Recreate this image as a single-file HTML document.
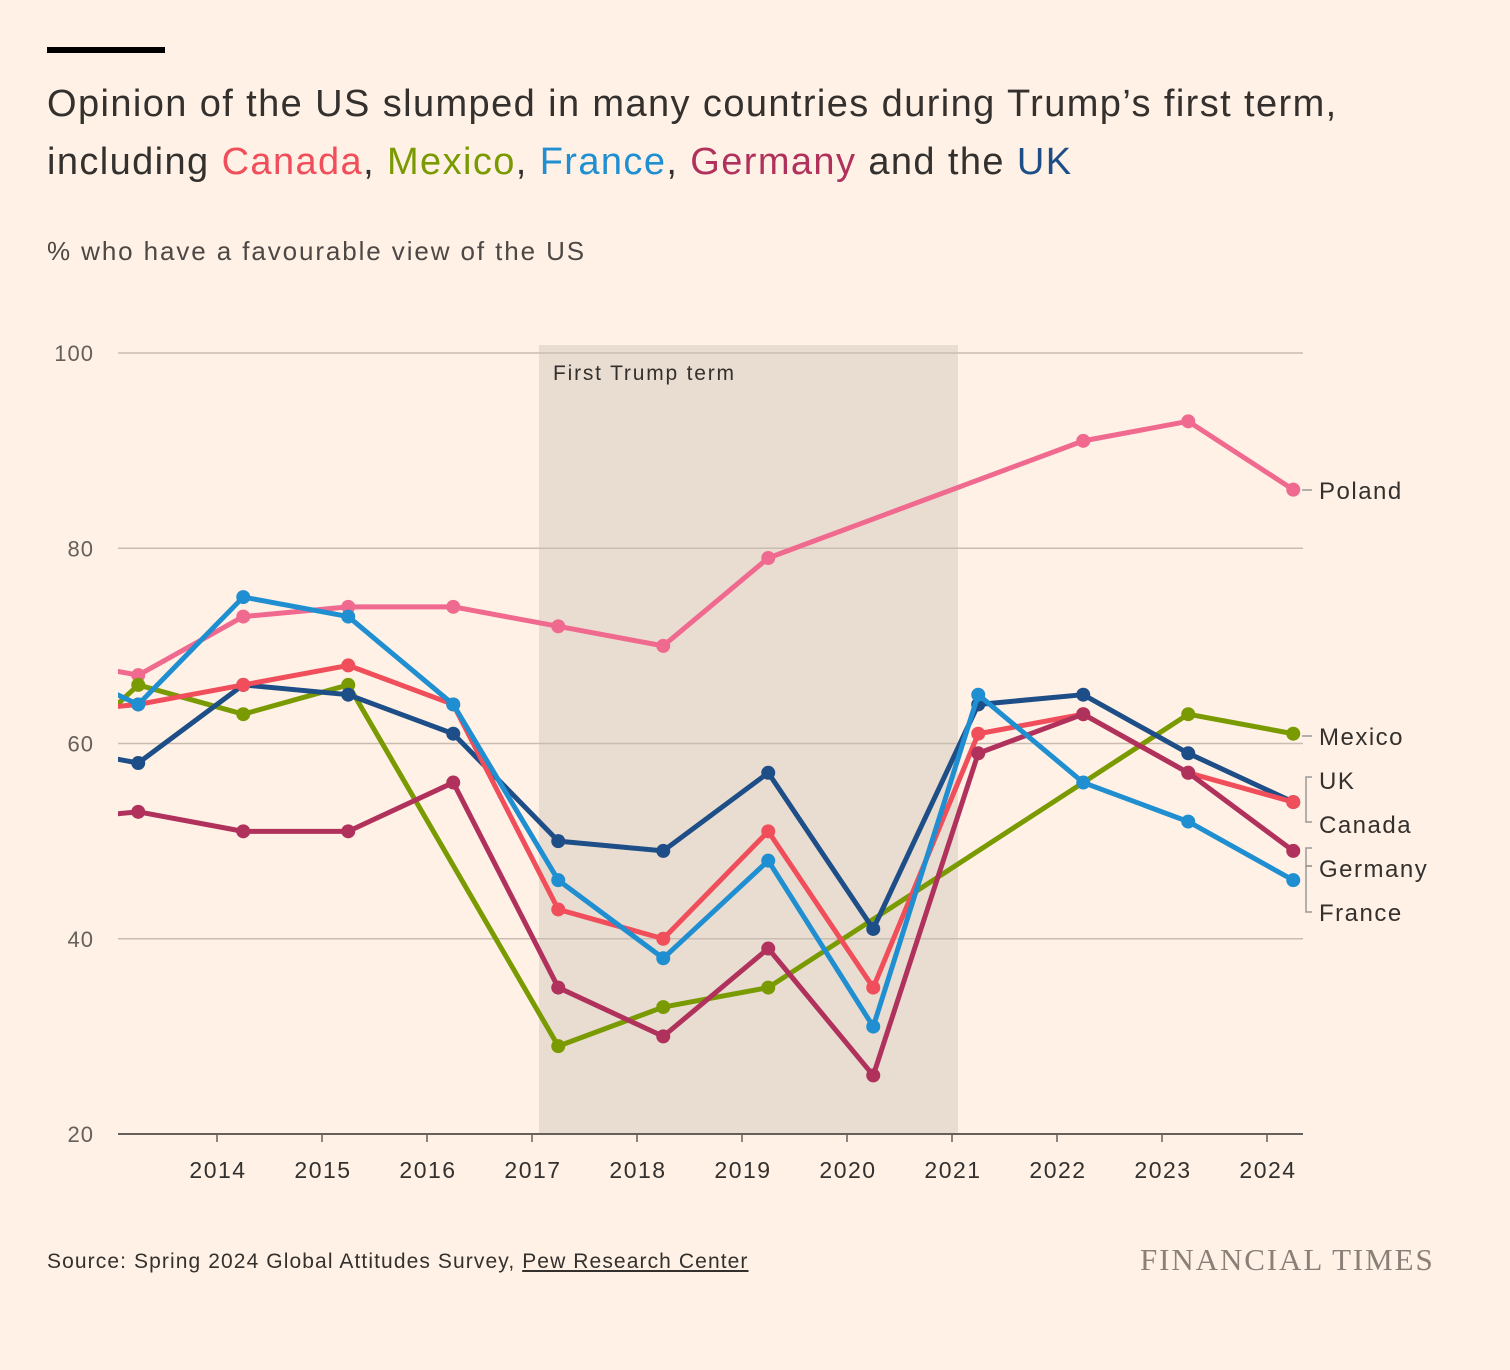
<!DOCTYPE html>
<html><head><meta charset="utf-8"><style>
body{margin:0;background:#fff1e5;font-family:"Liberation Sans",sans-serif;}
#wrap{position:relative;width:1510px;height:1370px;overflow:hidden;}
</style></head><body>
<div id="wrap">
<div style="position:absolute;left:47px;top:47px;width:118px;height:6px;background:#000"></div>
<div style="position:absolute;left:47px;top:75px;font-size:38px;letter-spacing:1.4px;line-height:58px;color:#33302e;width:1450px">Opinion of the US slumped in many countries during Trump’s first term,<br>including <span style="color:#f04e5a">Canada</span>, <span style="color:#7a9a01">Mexico</span>, <span style="color:#1f8fd1">France</span>, <span style="color:#b0325c">Germany</span> and the <span style="color:#1e4e87">UK</span></div>
<div style="position:absolute;left:47px;top:236px;font-size:26px;letter-spacing:1.9px;color:#4d4845">% who have a favourable view of the US</div>
<svg id="chart" width="1510" height="1370" style="position:absolute;left:0;top:0"></svg>
<div style="position:absolute;left:47px;top:1250px;font-size:21px;letter-spacing:1.1px;color:#33302e">Source: Spring 2024 Global Attitudes Survey, <span style="text-decoration:underline">Pew Research Center</span></div>
<div style="position:absolute;left:1140px;top:1242px;font-family:'Liberation Serif',serif;font-size:31px;letter-spacing:1.9px;color:#8a8078">FINANCIAL TIMES</div>
</div>
<script>
const years=[2012,2013,2014,2015,2016,2017,2018,2019,2020,2021,2022,2023,2024];
const poland=[69,67,73,74,74,72,70,79,null,null,91,93,86];
const canada=[63,64,66,68,64,43,40,51,35,61,63,57,54];
const mexico=[56,66,63,66,null,29,33,35,null,null,null,63,61];
const france=[69,64,75,73,64,46,38,48,31,65,56,52,46];
const germany=[52,53,51,51,56,35,30,39,26,59,63,57,49];
const uk=[60,58,66,65,61,50,49,57,41,64,65,59,54];
const yTicks=[20,40,60,80,100];
const xTicks=[2014,2015,2016,2017,2018,2019,2020,2021,2022,2023,2024];
const NS="http://www.w3.org/2000/svg";
const svg=document.getElementById('chart');
const X=t=>217+(t-2014)*105;
const Y=v=>1134-(v-20)*(781/80);
function el(tag,attrs,parent){const e=document.createElementNS(NS,tag);for(const k in attrs)e.setAttribute(k,attrs[k]);(parent||svg).appendChild(e);return e;}
const defs=el('defs',{});const cp=el('clipPath',{id:'clip'},defs);el('rect',{x:118,y:300,width:1200,height:900},cp);
const shade=el('rect',{x:539,y:345,width:419,height:1134-345,fill:'#e9ddd1'});


const st=el('text',{x:553,y:380,'font-size':21,'letter-spacing':1.8,fill:'#33302e'});st.textContent='First Trump term';


yTicks.forEach(v=>{
 const l=el('line',{x1:118,x2:1303,y1:Y(v),y2:Y(v),stroke:v==20?'#66605c':'#c9bdb3','stroke-width':v==20?2:1.5});
 
 
 const t=el('text',{x:94,y:Y(v)+8,'font-size':22,'letter-spacing':1,fill:'#66605c','text-anchor':'end'});t.textContent=v;
 
 
});
xTicks.forEach(v=>{
 const l=el('line',{x1:X(v),x2:X(v),y1:1134,y2:1142,stroke:'#66605c','stroke-width':1.5});
 
 
 const t=el('text',{x:X(v)+1,y:1178,'font-size':23,'letter-spacing':1.5,fill:'#33302e','text-anchor':'middle'});t.textContent=v;
 
 
});
const series=[['poland',poland,'#f0698f'],['mexico',mexico,'#7a9a01'],['uk',uk,'#1e4e87'],['canada',canada,'#f04e5a'],['germany',germany,'#b0325c'],['france',france,'#1f8fd1']];
series.forEach(([name,vals,col])=>{
 const g=el('g',{'clip-path':'url(#clip)'});
 
 
 let d='';
 vals.forEach((v,i)=>{if(v==null)return;d+=(d?'L':'M')+X(years[i]+0.25)+','+Y(v);});
 el('path',{d:d,fill:'none',stroke:col,'stroke-width':5,'stroke-linejoin':'round'},g);
 vals.forEach((v,i)=>{if(v==null||i==0)return;
  const c=el('circle',{cx:X(years[i]+0.25),cy:Y(v),r:7,fill:col},g);
  
  
 });
});
const labels=[['Poland',490],['Mexico',736],['UK',780],['Canada',824],['Germany',868],['France',912]];
labels.forEach(([n,y])=>{
 const t=el('text',{x:1319,y:y+9,'font-size':24,'letter-spacing':1.5,fill:'#33302e'});t.textContent=n;
 
 
});
[[1294,490,1312],[1294,736,1312]].forEach(([x1,y,x2])=>{const l=el('line',{x1:x1+8,x2:x2,y1:y,y2:y,stroke:'#999','stroke-width':1.5});});
[[777,822],[848,866],[866,912]].forEach(([a,b],i)=>{
 const p=el('path',{d:`M1312,${a}H1306V${b}H1312`,fill:'none',stroke:'#999','stroke-width':1.5});
 
 
});
</script>
</body></html>
